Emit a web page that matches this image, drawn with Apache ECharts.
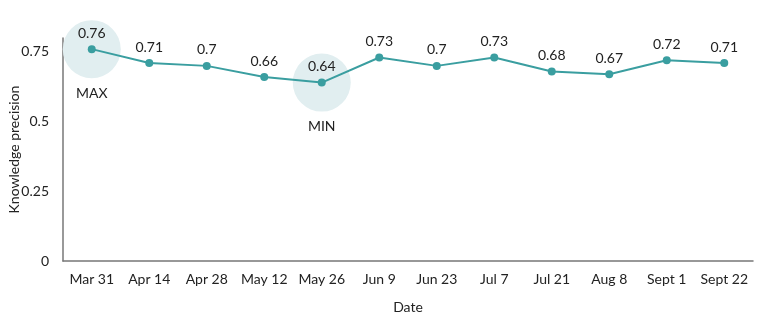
<!DOCTYPE html>
<html>
<head>
<meta charset="utf-8">
<script src="https://cdn.jsdelivr.net/npm/echarts@6/dist/echarts.min.js"></script>
<style>
  html, body { margin: 0; padding: 0; background: #fff; }
  #chart { width: 782px; height: 321px; }
</style>
</head>
<body>
<div id="chart"></div>
<script>
// 日期与精度
const dates = ['Mar 31', 'Apr 14', 'Apr 28', 'May 12', 'May 26', 'Jun 9', 'Jun 23', 'Jul 7', 'Jul 21', 'Aug 8', 'Sept 1', 'Sept 22'];
const precision = [0.76, 0.71, 0.7, 0.66, 0.64, 0.73, 0.7, 0.73, 0.68, 0.67, 0.72, 0.71];
const yTicks = [0, 0.25, 0.5, 0.75];
const highlights = [
  { name: 'MAX', idx: 0 },
  { name: 'MIN', idx: 4 }
];

const chart = echarts.init(document.getElementById('chart'));
const font = 'Lato, "Open Sans", sans-serif';

chart.setOption({
  animation: false,
  textStyle: { fontFamily: font },
  grid: { left: 63, right: 29, top: 38, bottom: 60, containLabel: false, outerBoundsMode: 'none' },
  xAxis: {
    type: 'category',
    data: dates,
    name: 'Date',
    nameLocation: 'middle',
    nameGap: 39,
    nameMoveOverlap: false,
    nameTextStyle: { color: '#222', fontSize: 14, fontFamily: font },
    axisLine: { lineStyle: { color: '#777', width: 1.5 } },
    axisTick: { show: false },
    axisLabel: { interval: 0, color: '#222', fontSize: 14, margin: 11, fontFamily: font }
  },
  yAxis: {
    type: 'value',
    min: 0,
    max: 0.8,
    interval: 0.25,
    name: 'Knowledge precision',
    nameLocation: 'middle',
    nameGap: 42,
    nameMoveOverlap: false,
    nameTextStyle: { color: '#222', fontSize: 14, fontFamily: font },
    axisLine: { show: true, lineStyle: { color: '#777', width: 1.5 } },
    axisTick: { show: false },
    splitLine: { show: false },
    axisLabel: {
      color: '#222', fontSize: 14, margin: 14, fontFamily: font,
      showMaxLabel: false,
      formatter: v => yTicks.indexOf(v) >= 0 ? String(v) : ''
    }
  },
  series: [
    {
      type: 'scatter',
      data: highlights.map(h => ({ value: [h.idx, precision[h.idx]], name: h.name })),
      symbolSize: 58,
      itemStyle: { color: '#e1eef0', opacity: 1 },
      label: {
        show: true,
        formatter: p => p.name,
        position: 'inside',
        offset: [0, 44],
        color: '#222',
        fontSize: 14,
        fontFamily: font
      },
      silent: true,
      z: 1
    },
    {
      type: 'line',
      data: precision,
      symbol: 'circle',
      symbolSize: 8,
      lineStyle: { color: '#3a9ea0', width: 2 },
      itemStyle: { color: '#3a9ea0' },
      label: {
        show: true,
        position: 'top',
        distance: 5,
        color: '#222',
        fontSize: 14,
        fontFamily: font
      },
      z: 3
    }
  ]
});
</script>
</body>
</html>
